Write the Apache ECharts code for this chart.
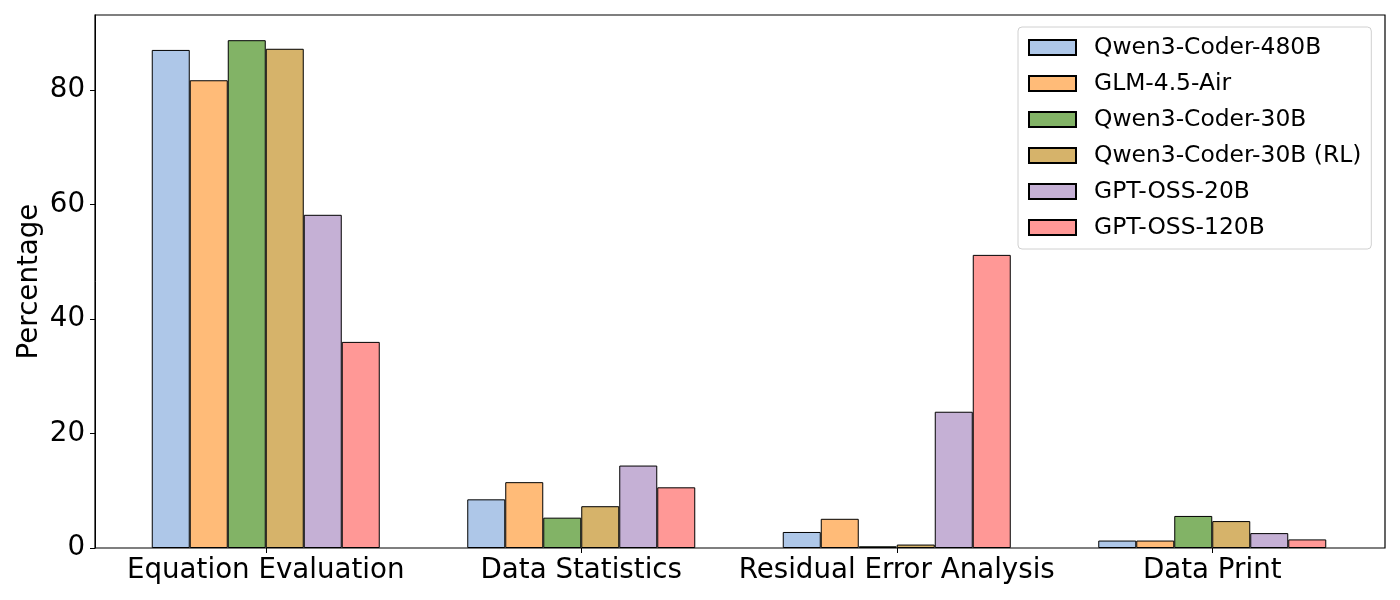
<!DOCTYPE html>
<html>
<head>
<meta charset="utf-8">
<script src="https://cdn.jsdelivr.net/npm/echarts@6/dist/echarts.min.js"></script>
<style>
html,body{margin:0;padding:0;background:#fff;}
#chart{width:1400px;height:600px;}
</style>
</head>
<body>
<div id="chart"></div>
<script>
const categories = ['Equation Evaluation', 'Data Statistics', 'Residual Error Analysis', 'Data Print'];
const seriesNames = ['Qwen3-Coder-480B', 'GLM-4.5-Air', 'Qwen3-Coder-30B', 'Qwen3-Coder-30B (RL)', 'GPT-OSS-20B', 'GPT-OSS-120B'];
const qwen480 = [87.0, 8.5, 2.8, 1.3];
const glm45air = [81.7, 11.5, 5.1, 1.3];
const qwen30 = [88.7, 5.3, 0.3, 5.6];
const qwen30rl = [87.2, 7.3, 0.6, 4.7];
const gptoss20 = [58.2, 14.4, 23.8, 2.6];
const gptoss120 = [36.0, 10.6, 51.2, 1.5];
const yTicks = [0, 20, 40, 60, 80];
const colors = ['#aec7e8', '#ffbb78', '#82b366', '#d6b36a', '#c5b0d5', '#ff9896'];

const allData = [qwen480, glm45air, qwen30, qwen30rl, gptoss20, gptoss120];
const yMax = 93.1;
const font = 'DejaVu Sans';

const chart = echarts.init(document.getElementById('chart'), null, {renderer: 'canvas'});
const option = {
  animation: false,
  backgroundColor: '#fff',
  textStyle: {fontFamily: font, color: '#000'},
  grid: [
    {left: 95, right: 15, top: 15, bottom: 52, show: true, borderColor: '#000', borderWidth: 1.2, backgroundColor: 'transparent'},
    {left: 108, right: 30, top: 15, bottom: 52}
  ],
  xAxis: [
    {type: 'value', gridIndex: 0, show: false, min: 0, max: 1},
    {
      type: 'category', gridIndex: 1, data: categories,
      axisLine: {show: false},
      axisTick: {show: true, alignWithLabel: true, interval: 0, length: 5, lineStyle: {color: '#000', width: 1}},
      axisLabel: {interval: 0, fontSize: 27.7, fontFamily: font, color: '#000', margin: 9},
      splitLine: {show: false}
    }
  ],
  yAxis: [
    {
      type: 'value', gridIndex: 0, min: 0, max: yMax, interval: 20,
      name: 'Percentage', nameLocation: 'middle', nameGap: 51, nameMoveOverlap: false,
      nameTextStyle: {fontSize: 27.7, fontFamily: font, color: '#000'},
      axisLine: {show: true, lineStyle: {color: '#000'}},
      axisTick: {show: true, length: 5, lineStyle: {color: '#000'}, customValues: yTicks},
      axisLabel: {fontSize: 27.7, fontFamily: font, color: '#000', margin: 10, customValues: yTicks},
      splitLine: {show: false}
    },
    {type: 'value', gridIndex: 1, min: 0, max: yMax, show: false}
  ],
  legend: {
    orient: 'vertical', left: 1018, top: 27,
    padding: [8, 10, 9, 10],
    itemWidth: 47, itemHeight: 15, itemGap: 11,
    backgroundColor: '#fff', borderColor: '#d0d0d0', borderWidth: 1, borderRadius: 4,
    textStyle: {fontSize: 23.4, fontFamily: font, color: '#000', lineHeight: 25, padding: [0, 0, 0, 13]},
    icon: 'rect',
    data: seriesNames
  },
  series: seriesNames.map((name, i) => ({
    name: name,
    type: 'bar',
    xAxisIndex: 1, yAxisIndex: 1,
    data: allData[i],
    barWidth: 38,
    barGap: '0%',
    itemStyle: {color: colors[i], borderColor: '#000', borderWidth: 1}
  }))
};
chart.setOption(option);
</script>
</body>
</html>
